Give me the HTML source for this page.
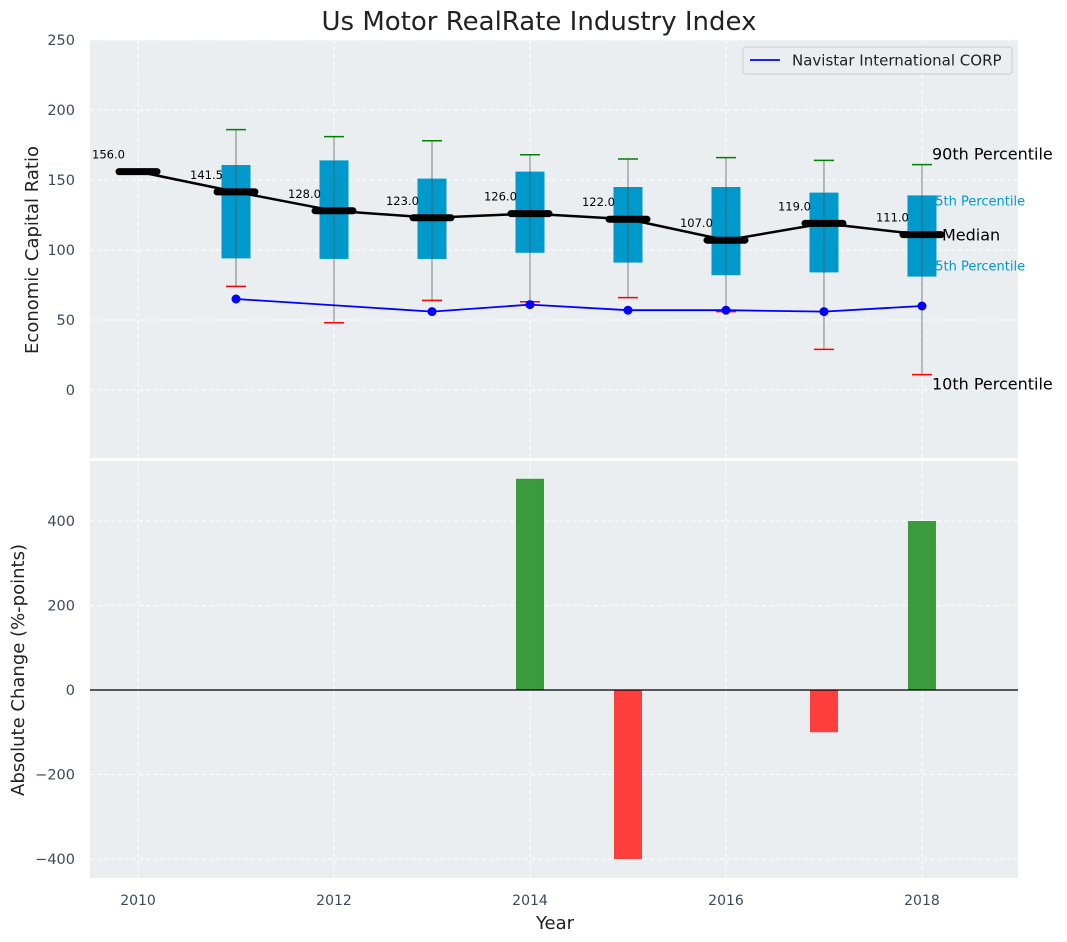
<!DOCTYPE html>
<html><head><meta charset="utf-8"><style>
body{margin:0;background:#fff;}
svg{display:block;font-family:"DejaVu Sans","Liberation Sans",sans-serif;}
</style></head><body>
<svg id="chart" width="1067" height="942" xmlns="http://www.w3.org/2000/svg"></svg>
<script>
const years=[2010,2011,2012,2013,2014,2015,2016,2017,2018];
const medians=[156,141.5,128,123,126,122,107,119,111];
const q1=[null,94,93.6,93.6,98,91,82,84,81];
const q3=[null,160.7,164,151,156,145,145,141,139];
const p10=[null,74,48,64,63,66,56,29,11];
const p90=[null,186,181,178,168,165,166,164,161];
const navistar=[null,65,null,56,61,57,57,56,60];
const changes=[0,0,0,0,500,-400,0,-100,400];
const yTicksTop=[0,50,100,150,200,250];
const yTicksBot=[-400,-200,0,200,400];
const xTicks=[2010,2012,2014,2016,2018];

const NS="http://www.w3.org/2000/svg";
const svg=document.getElementById('chart');
function el(tag,attrs,parent){const e=document.createElementNS(NS,tag);for(const k in attrs)e.setAttribute(k,attrs[k]);(parent||svg).appendChild(e);return e;}
const L=90,R=1018,T1=40,B1=458,T2=461,B2=878;
const x=v=>L+(v-2009.51)/(2018.98-2009.51)*(R-L);
const y1=v=>390-v*1.4;
const y2=v=>690-v*(169/400);
const tc="#3b4a5c";

let e=el('rect',{x:L,y:T1,width:R-L,height:B1-T1,fill:"#eaeef0"});

e=el('rect',{x:L,y:T2,width:R-L,height:B2-T2,fill:"#eaeef0"});


xTicks.forEach(t=>{
  [[T1,B1],[T2,B2]].forEach(([a,b])=>el('line',{x1:x(t),x2:x(t),y1:a,y2:b,stroke:"#fff","stroke-dasharray":"4,3","stroke-width":1}));
  e=el('text',{x:x(t),y:905,"text-anchor":"middle","font-size":14,fill:tc});e.textContent=t;
  
});
yTicksTop.forEach(t=>{
  el('line',{x1:L,x2:R,y1:y1(t),y2:y1(t),stroke:"#fff","stroke-dasharray":"4,3"});
  e=el('text',{x:75,y:y1(t)+5,"text-anchor":"end","font-size":14.5,fill:tc});e.textContent=t;
  
});
yTicksBot.forEach(t=>{
  el('line',{x1:L,x2:R,y1:y2(t),y2:y2(t),stroke:"#fff","stroke-dasharray":"4,3"});
  e=el('text',{x:75,y:y2(t)+5,"text-anchor":"end","font-size":14.5,fill:tc});e.textContent=t<0?'\u2212'+(-t):t;
  
});

// annotations (drawn under boxes)
const ax=x(2018)+10;
[["90th Percentile",p90[8],16,"#000",0,-5],["75th Percentile",q3[8],13,"#0099cc",-5,10],["Median",medians[8],16,"#000",10,6],["25th Percentile",q1[8],13,"#0099cc",-5,-6],["10th Percentile",p10[8],16,"#000",0,15]].forEach(([t,v,fs,c,dx,dy])=>{
  e=el('text',{x:ax+dx,y:y1(v)+dy,"font-size":fs,fill:c});e.textContent=t;
  
});

years.forEach((yr,i)=>{
  if(q1[i]==null)return;
  const cx=x(yr),w=29;
  e=el('rect',{x:cx-w/2,y:y1(q3[i]),width:w,height:y1(q1[i])-y1(q3[i]),fill:"#0099cc"});
  
  e=el('line',{x1:cx,x2:cx,y1:y1(p90[i]),y2:y1(p10[i]),stroke:"#555","stroke-opacity":0.6,"stroke-width":1.2});
  
  e=el('line',{x1:cx-10,x2:cx+10,y1:y1(p90[i]),y2:y1(p90[i]),stroke:"green","stroke-width":1.5});
  
  e=el('line',{x1:cx-10,x2:cx+10,y1:y1(p10[i]),y2:y1(p10[i]),stroke:"red","stroke-width":1.5});
  
});
e=el('polyline',{points:years.map((yr,i)=>x(yr)+','+y1(medians[i])).join(' '),fill:"none",stroke:"#000","stroke-width":2.5});

years.forEach((yr,i)=>{
  const cx=x(yr),cy=y1(medians[i]);
  e=el('line',{x1:cx-19,x2:cx+19,y1:cy,y2:cy,stroke:"#000","stroke-width":7,"stroke-linecap":"round"});
  
  e=el('text',{x:cx-46,y:cy-13,"font-size":11.5,fill:"#000"});e.textContent=medians[i].toFixed(1);
  
});
let segs=[];navistar.forEach((v,i)=>{if(v!=null)segs.push(x(years[i])+','+y1(v));});
e=el('polyline',{points:segs.join(' '),fill:"none",stroke:"#0000ff","stroke-width":1.8});

navistar.forEach((v,i)=>{if(v==null)return;
  e=el('circle',{cx:x(years[i]),cy:y1(v),r:4.5,fill:"#0000ff"});
  });

const lg=el('g',{});
el('rect',{x:743,y:47,width:269,height:27,rx:3,fill:"#eaeef0",stroke:"#ccc"},lg);
el('line',{x1:750,x2:780,y1:60,y2:60,stroke:"#0000ff","stroke-width":1.8},lg);
e=el('text',{x:792,y:65.5,"font-size":15,fill:"#222"},lg);e.textContent="Navistar International CORP";

years.forEach((yr,i)=>{const v=changes[i];if(!v)return;
  e=el('rect',{x:x(yr)-14,y:Math.min(y2(0),y2(v)),width:28,height:Math.abs(y2(v)-y2(0)),fill:v>0?"#3a9b3c":"#ff3e3e"});
  });
e=el('line',{x1:L,x2:R,y1:y2(0),y2:y2(0),stroke:"#000","stroke-width":1.2});


e=el('text',{x:539,y:30,"text-anchor":"middle","font-size":26,fill:"#222"});e.textContent="Us Motor RealRate Industry Index";

e=el('text',{x:555,y:929,"text-anchor":"middle","font-size":18,fill:"#222"});e.textContent="Year";

e=el('text',{x:0,y:0,"text-anchor":"middle","font-size":18,fill:"#222",transform:"translate(38,250) rotate(-90)"});e.textContent="Economic Capital Ratio";

e=el('text',{x:0,y:0,"text-anchor":"middle","font-size":18,fill:"#222",transform:"translate(24,670) rotate(-90)"});e.textContent="Absolute Change (%-points)";

</script>
</body></html>
